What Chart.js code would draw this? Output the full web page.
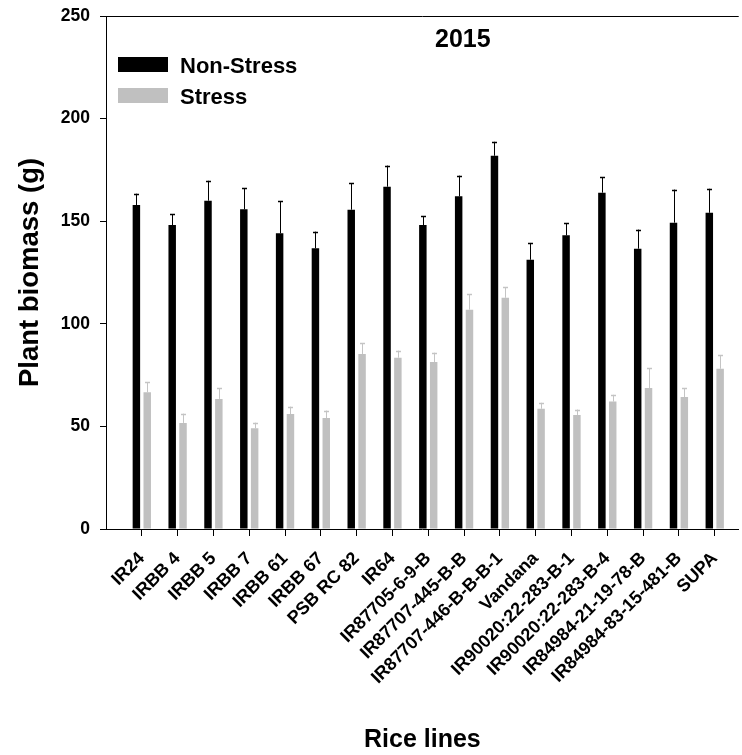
<!DOCTYPE html>
<html>
<head>
<meta charset="utf-8">
<title>Plant biomass 2015</title>
<script src="https://cdn.jsdelivr.net/npm/chart.js@4.4.1/dist/chart.umd.min.js"></script>
<style>
  html, body { margin: 0; padding: 0; background: #ffffff; }
  #wrap { width: 742px; height: 755px; position: relative; }
</style>
</head>
<body>
<div id="wrap"><canvas id="chart" width="742" height="755"></canvas></div>
<script>
// Rice lines screened in 2015
const categories = [
  'IR24', 'IRBB 4', 'IRBB 5', 'IRBB 7', 'IRBB 61', 'IRBB 67', 'PSB RC 82', 'IR64',
  'IR87705-6-9-B', 'IR87707-445-B-B', 'IR87707-446-B-B-B-1', 'Vandana',
  'IR90020:22-283-B-1', 'IR90020:22-283-B-4', 'IR84984-21-19-78-B',
  'IR84984-83-15-481-B', 'SUPA'
];

// Mean plant biomass (g) and standard errors
const nonStress    = [157.9, 148.1, 160.0, 155.8, 144.1, 136.8, 155.6, 166.8, 148.1, 162.1, 181.9, 131.2, 143.1, 163.9, 136.6, 149.3, 154.1];
const nonStressErr = [5.5, 5.2, 9.7, 10.2, 15.7, 8.1, 13.0, 10.3, 4.4, 10.1, 6.8, 8.2, 5.9, 7.5, 9.3, 16.1, 11.7];
const stress       = [66.6, 51.7, 63.4, 49.1, 56.0, 54.1, 85.3, 83.5, 81.4, 106.9, 112.7, 58.6, 55.6, 62.1, 68.7, 64.3, 78.1];
const stressErr    = [5.0, 4.5, 5.3, 2.7, 3.6, 3.6, 5.2, 3.4, 4.5, 7.6, 5.1, 2.9, 2.6, 3.3, 9.7, 4.2, 6.7];

const yTicks = [0, 50, 100, 150, 200, 250];

const FONT = '"Liberation Sans", Arial, Helvetica, sans-serif';

function toPoints(values) {
  return values.map((v, i) => ({ x: i + 1, y: v }));
}

// Upward-only error whiskers with a small cap
const errorBarsPlugin = {
  id: 'errorBars',
  afterDatasetsDraw(chart) {
    const ctx = chart.ctx;
    const yScale = chart.scales.y;
    chart.data.datasets.forEach((ds, di) => {
      const meta = chart.getDatasetMeta(di);
      if (!meta.visible || !ds.errors) return;
      ctx.save();
      ctx.strokeStyle = ds.errorColor;
      meta.data.forEach((bar, i) => {
        const x = Math.round(bar.x) + 0.5;
        const yTop = yScale.getPixelForValue(ds.data[i].y + ds.errors[i]);
        ctx.lineWidth = 1;
        ctx.beginPath();
        ctx.moveTo(x, bar.y);
        ctx.lineTo(x, yTop);
        ctx.stroke();
        ctx.lineWidth = 1.5;
        ctx.beginPath();
        ctx.moveTo(x - 2.5, Math.round(yTop) + 0.5);
        ctx.lineTo(x + 2.5, Math.round(yTop) + 0.5);
        ctx.stroke();
      });
      ctx.restore();
    });
  }
};

// Top frame line, year label and legend inside the plot
const decorPlugin = {
  id: 'decor',
  afterDraw(chart) {
    const ctx = chart.ctx;
    const area = chart.chartArea;
    ctx.save();
    ctx.strokeStyle = '#000000';
    ctx.lineWidth = 1;
    ctx.beginPath();
    ctx.moveTo(area.left, Math.round(area.top) + 0.5);
    ctx.lineTo(area.right, Math.round(area.top) + 0.5);
    ctx.stroke();

    ctx.fillStyle = '#000000';
    ctx.textAlign = 'left';
    ctx.textBaseline = 'alphabetic';
    ctx.font = 'bold 25px ' + FONT;
    ctx.fillText('2015', 435, 46.5);

    const rows = [
      { y: 57, base: 72.5 },
      { y: 88, base: 104 }
    ];
    ctx.font = 'bold 22px ' + FONT;
    chart.data.datasets.forEach((ds, i) => {
      const r = rows[i];
      ctx.fillStyle = ds.backgroundColor;
      ctx.fillRect(118, r.y, 50, 15);
      ctx.fillStyle = '#000000';
      ctx.fillText(ds.label, 180, r.base);
    });
    ctx.restore();
  }
};

new Chart(document.getElementById('chart'), {
  type: 'bar',
  data: {
    datasets: [
      {
        label: 'Non-Stress',
        data: toPoints(nonStress),
        errors: nonStressErr,
        backgroundColor: '#000000',
        errorColor: '#000000',
        borderWidth: 0
      },
      {
        label: 'Stress',
        data: toPoints(stress),
        errors: stressErr,
        backgroundColor: '#c0c0c0',
        errorColor: '#c4c4c4',
        borderWidth: 0
      }
    ]
  },
  options: {
    responsive: false,
    animation: false,
    devicePixelRatio: 1,
    categoryPercentage: 0.605,
    barPercentage: 0.69,
    layout: { padding: { top: 16, left: 0, right: 0, bottom: 0 } },
    plugins: {
      legend: { display: false },
      tooltip: { enabled: false },
      title: { display: false }
    },
    scales: {
      x: {
        type: 'linear',
        offset: false,
        min: 0,
        max: 17.67,
        afterBuildTicks(scale) {
          scale.ticks = categories.map((c, i) => ({ value: i + 1 }));
        },
        afterFit(scale) { scale.height = 226; },
        ticks: {
          autoSkip: false,
          maxRotation: 45,
          minRotation: 45,
          padding: 12,
          color: '#000000',
          font: { family: FONT, size: 18, weight: 'bold' },
          callback: (value, index) => categories[index]
        },
        grid: {
          offset: false,
          drawOnChartArea: false,
          drawTicks: true,
          tickLength: 7,
          tickColor: '#000000',
          tickWidth: 1
        },
        border: { display: true, color: '#000000', width: 1 },
        title: {
          display: true,
          text: 'Rice lines',
          color: '#000000',
          font: { family: FONT, size: 25, weight: 'bold' },
          padding: { top: 0, bottom: 0 }
        }
      },
      y: {
        min: 0,
        max: 250,
        afterBuildTicks(scale) {
          scale.ticks = yTicks.map(v => ({ value: v }));
        },
        afterFit(scale) {
          scale.width = 106;
          scale.paddingTop = 0;
          scale.paddingBottom = 0;
        },
        ticks: {
          padding: 10,
          color: '#000000',
          font: { family: FONT, size: 17.5, weight: 'bold' }
        },
        grid: {
          drawOnChartArea: false,
          drawTicks: true,
          tickLength: 6,
          tickColor: '#000000',
          tickWidth: 1
        },
        border: { display: true, color: '#000000', width: 1 },
        title: {
          display: true,
          text: 'Plant biomass (g)',
          color: '#000000',
          font: { family: FONT, size: 27.5, weight: 'bold' },
          padding: { top: 14, bottom: 0 }
        }
      }
    }
  },
  plugins: [errorBarsPlugin, decorPlugin]
});
</script>
</body>
</html>
